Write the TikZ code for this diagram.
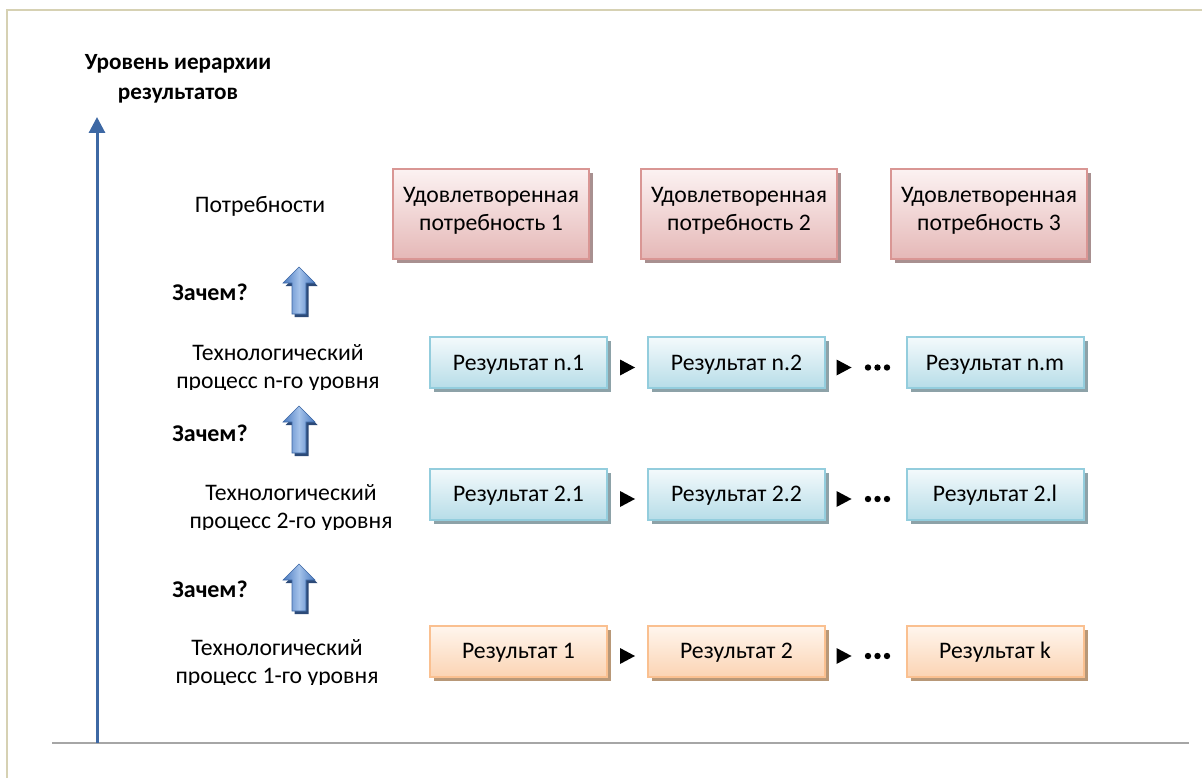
\documentclass[tikz,border=0pt]{standalone}
\usepackage{fontspec}
\setmainfont{Carlito}
\usetikzlibrary{arrows.meta,shadows,calc}

\definecolor{framecol}{HTML}{D6D1B3}
\definecolor{axisblue}{HTML}{3D68A4}
\definecolor{axisgray}{HTML}{A6A6A6}
\definecolor{pinkline}{HTML}{D99694}
\definecolor{pinktop}{HTML}{FCF2F2}
\definecolor{pinkbot}{HTML}{E5B8B7}
\definecolor{pinkshade}{HTML}{A89090}
\definecolor{blueline}{HTML}{93CDDD}
\definecolor{bluetop}{HTML}{F4FAFC}
\definecolor{bluebot}{HTML}{B7DDE8}
\definecolor{blueshade}{HTML}{8DA2A8}
\definecolor{orline}{HTML}{FAC090}
\definecolor{ortop}{HTML}{FFF6EE}
\definecolor{orbot}{HTML}{FBD4B4}
\definecolor{orshade}{HTML}{B89878}
\definecolor{arrowdark}{HTML}{4A7AC0}
\definecolor{arrowlight}{HTML}{A4C2EA}
\definecolor{arrowedge}{HTML}{3A66A4}
\definecolor{arrowshadow}{HTML}{2C4A78}

\newcommand\txtfont{\fontsize{23.7}{28}\selectfont}
\newcommand\hdfont{\fontsize{23.2}{30}\selectfont\bfseries}
\newcommand\qfont{\fontsize{24}{28}\selectfont\bfseries}

\tikzset{
  box/.style={draw, line width=2pt, inner sep=0pt, align=center, font=\txtfont, text=black},
  needbox/.style={box, minimum width=196pt, minimum height=90pt, text depth=11pt,
    draw=pinkline, top color=pinktop, bottom color=pinkbot,
    drop shadow={shadow xshift=4pt, shadow yshift=-4pt, fill=pinkshade, opacity=1}},
  resbox/.style={box, minimum width=177pt, minimum height=51pt, text height=20pt, text depth=5pt},
  bluebox/.style={resbox, draw=blueline, top color=bluetop, bottom color=bluebot,
    drop shadow={shadow xshift=4pt, shadow yshift=-4pt, fill=blueshade, opacity=1}},
  orbox/.style={resbox, draw=orline, top color=ortop, bottom color=orbot,
    drop shadow={shadow xshift=4pt, shadow yshift=-4pt, fill=orshade, opacity=1}},
  lbl/.style={align=center, font=\txtfont, inner sep=0pt},
  whylbl/.style={font=\qfont, inner sep=0pt},
  nextmark/.pic={\fill[black] (-7.5,-8) -- (7.5,0) -- (-7.5,8) -- cycle;},
  moremark/.pic={\fill[black] (-9.5,0) circle (3.2pt) (0,0) circle (3.2pt) (9.5,0) circle (3.2pt);},
  whyarrow/.pic={
    \fill[arrowshadow] (2.5,3) -- (-13.5,19) -- (-4.5,19) -- (-4.5,50) -- (9.5,50)
      -- (9.5,19) -- (18.5,19) -- cycle;
    \path[draw=arrowedge, line width=0.6pt, left color=arrowdark, right color=arrowdark,
      middle color=arrowlight]
      (0,0) -- (-16,16) -- (-7,16) -- (-7,47) -- (7,47) -- (7,16) -- (16,16) -- cycle;}
}

\begin{document}
\begin{tikzpicture}[x=1pt, y=-1pt]
\useasboundingbox (0,0) rectangle (1202,778);

% outer frame
\draw[framecol, line width=2.5pt] (7,778) -- (7,10) -- (1202,10);

% axes
\coordinate (origin) at (97,743);
\coordinate (ytop) at (97,117);
\coordinate (xleft) at (52,743);
\coordinate (xright) at (1189,743);
\draw[axisgray, line width=2.5pt] (xleft) -- (xright);
\draw[axisblue, line width=3pt, -{Triangle[width=16pt,length=16pt]}] (origin) -- (ytop);

\node[font=\hdfont, align=center, inner sep=0pt] (axistitle) at (178,79)
  {Уровень иерархии\\результатов};

% needs
\node[lbl] (needlbl) at (260,206.5) {Потребности};
\node[needbox] (need1) at (491,214) {Удовлетворенная\\потребность 1};
\node[needbox] (need2) at (739,214) {Удовлетворенная\\потребность 2};
\node[needbox] (need3) at (989,214) {Удовлетворенная\\потребность 3};

% level n
\node[whylbl] (whyn) at (210,292.5) {Зачем?};
\pic at (299,267) {whyarrow};
\begin{scope}
  \clip (150,330) rectangle (420,389);
  \node[lbl] (procn) at (278,368.5) {Технологический\\процесс n-го уровня};
\end{scope}
\node[bluebox] (rn1) at (518.5,362.5) {Результат n.1};
\node[bluebox] (rn2) at (736.5,362.5) {Результат n.2};
\node[bluebox] (rnm) at (995,362.5) {Результат n.m};
\pic at ($(rn1.east)!0.5!(rn2.west)+(0,5)$) {nextmark};
\pic at ($(rn2.east)+(18,5)$) {nextmark};
\pic at ($(rnm.west)+(-28,5)$) {moremark};

% level 2
\node[whylbl] (why2) at (210,433.5) {Зачем?};
\pic at (299,406) {whyarrow};
\begin{scope}
  \clip (150,470) rectangle (420,529);
  \node[lbl] (proc2) at (291,508.5) {Технологический\\процесс 2-го уровня};
\end{scope}
\node[bluebox] (r21) at (518.5,494) {Результат 2.1};
\node[bluebox] (r22) at (736.5,494) {Результат 2.2};
\node[bluebox] (r2l) at (995,494) {Результат 2.l};
\pic at ($(r21.east)!0.5!(r22.west)+(0,5)$) {nextmark};
\pic at ($(r22.east)+(18,5)$) {nextmark};
\pic at ($(r2l.west)+(-28,5)$) {moremark};

% level 1
\node[whylbl] (why1) at (210,589.5) {Зачем?};
\pic at (299,564) {whyarrow};
\begin{scope}
  \clip (150,625) rectangle (420,684);
  \node[lbl] (proc1) at (277,663.5) {Технологический\\процесс 1-го уровня};
\end{scope}
\node[orbox] (r1) at (518.5,651) {Результат 1};
\node[orbox] (r2) at (736.5,651) {Результат 2};
\node[orbox] (rk) at (995,651) {Результат k};
\pic at ($(r1.east)!0.5!(r2.west)+(0,5)$) {nextmark};
\pic at ($(r2.east)+(18,5)$) {nextmark};
\pic at ($(rk.west)+(-28,5)$) {moremark};
\end{tikzpicture}
\end{document}
